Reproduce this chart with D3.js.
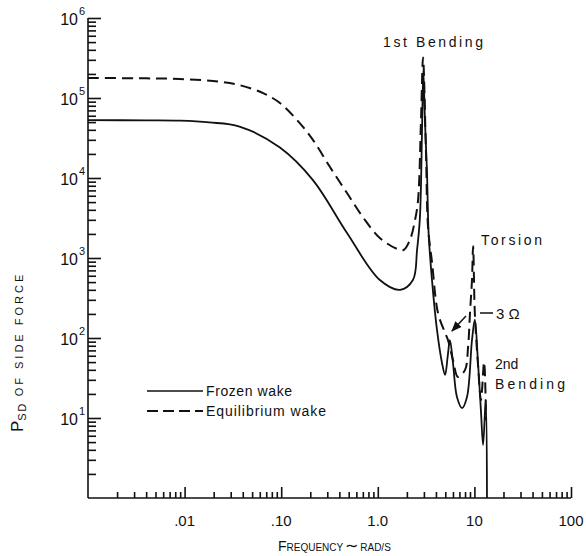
<!DOCTYPE html>
<meta charset="utf-8">
<style>
  body { margin: 0; background: #fff; }
  text { font-family: "Liberation Sans", Arial, sans-serif; fill: #111; }
</style>
<svg width="586" height="556"></svg>
<script src="https://d3js.org/d3.v7.min.js"></script>
<script>

var width = 586,
    height = 556;

// frozen wake (solid)
var freqFrozen = [0.001, 0.004, 0.009, 0.018, 0.037, 0.097, 0.213, 0.48, 1.05, 1.7, 2.31, 2.55, 2.73, 2.87, 2.96, 3.08, 3.23, 3.36, 3.64, 4.10, 4.62, 4.97, 5.3, 5.58, 6.0, 6.6, 7.45, 8.38, 9.44, 10.1, 10.9, 11.7, 12.3, 13.1, 13.5];
var psdFrozen = [5.3e4, 5.25e4, 5.2e4, 4.95e4, 4.4e4, 2.4e4, 9400, 2050, 530, 400, 530, 1260, 3240, 4e4, 2.2e5, 5e4, 1.2e4, 2000, 530, 126, 48.7, 34.5, 60, 94, 49, 18.3, 13.3, 18.3, 94, 170, 49, 12, 4.6, 16.8, 1];

// equilibrium wake (dashed)
var freqEquil = [0.001, 0.004, 0.0089, 0.0197, 0.037, 0.065, 0.097, 0.146, 0.213, 0.32, 0.48, 0.70, 1.05, 1.58, 1.85, 2.15, 2.43, 2.61, 2.80, 2.94, 3.15, 3.31, 3.64, 4.20, 4.97, 5.33, 6.0, 6.76, 8.0, 8.6, 9.0, 9.44, 9.7, 10.1, 10.9, 11.7, 12.6, 13.2];
var psdEquil = [1.78e5, 1.76e5, 1.73e5, 1.63e5, 1.45e5, 1.15e5, 8.66e4, 5.3e4, 3e4, 1.37e4, 6490, 3250, 1780, 1300, 1260, 1680, 2990, 5300, 5.3e4, 3.2e5, 2.2e4, 2450, 890, 205, 116, 94, 53, 32.5, 40, 77, 205, 531, 1400, 205, 46, 16.8, 50, 9.4];

var xMajor = [0.01, 0.1, 1, 10, 100],
    xLabels = [".01", ".10", "1.0", "10", "100"],
    yMajor = [1e1, 1e2, 1e3, 1e4, 1e5, 1e6],
    yExp = ["1", "2", "3", "4", "5", "6"];

var x = d3.scaleLog().domain([0.001, 100]).range([88, 571]),
    y = d3.scaleLog().domain([1, 1e6]).range([498, 18]);

var svg = d3.select("svg");

function minors(lo, hi) {
  var out = [];
  for (var d = lo; d < hi; d *= 10)
    for (var k = 2; k <= 9; k++) out.push(d * k);
  return out;
}

// axes
svg.append("g")
    .attr("transform", "translate(0,498)")
    .call(d3.axisBottom(x).tickValues(minors(0.001, 100)).tickSize(-6).tickFormat(""))
    .call(function(g) { g.select(".domain").attr("d", "M88,0H571"); });
svg.append("g")
    .attr("transform", "translate(0,498)")
    .call(d3.axisBottom(x).tickValues(xMajor).tickSize(-11).tickFormat(""))
    .call(function(g) { g.select(".domain").remove(); });

svg.append("g")
    .attr("transform", "translate(88,0)")
    .call(d3.axisLeft(y).tickValues(minors(1, 1e6)).tickSize(-8).tickFormat(""))
    .call(function(g) { g.select(".domain").attr("d", "M0,18V498"); });
svg.append("g")
    .attr("transform", "translate(88,0)")
    .call(d3.axisLeft(y).tickValues(yMajor).tickSize(-13).tickFormat(""))
    .call(function(g) { g.select(".domain").remove(); });

svg.selectAll(".tick line, .domain").attr("stroke", "#111").attr("stroke-width", 1.6);

// tick labels
svg.selectAll(".xlab")
  .data(xMajor)
  .enter().append("text")
    .attr("x", function(d) { return x(d); })
    .attr("y", 526)
    .attr("text-anchor", "middle")
    .style("font-size", "15px")
    .text(function(d, i) { return xLabels[i]; });

var yl = svg.selectAll(".ylab")
  .data(yMajor)
  .enter().append("g")
    .attr("transform", function(d) { return "translate(0," + y(d) + ")"; });
yl.append("text")
    .attr("x", 78)
    .attr("y", 7)
    .attr("text-anchor", "end")
    .style("font-size", "16px")
    .text("10");
yl.append("text")
    .attr("x", 79)
    .attr("y", -3)
    .style("font-size", "11px")
    .text(function(d, i) { return yExp[i]; });

// curves
var line = d3.line()
    .x(function(d) { return x(d[0]); })
    .y(function(d) { return y(d[1]); })
    .curve(d3.curveCatmullRom.alpha(0.5));

svg.append("path")
    .datum(d3.zip(freqFrozen, psdFrozen))
    .attr("d", line)
    .attr("fill", "none")
    .attr("stroke", "#111")
    .attr("stroke-width", 1.8);

svg.append("path")
    .datum(d3.zip(freqEquil, psdEquil))
    .attr("d", line)
    .attr("fill", "none")
    .attr("stroke", "#111")
    .attr("stroke-width", 2)
    .attr("stroke-dasharray", "11,6");

// annotations
function label(t, px, py, size) {
  return svg.append("text").attr("x", px).attr("y", py).style("font-size", (size || 14) + "px").text(t);
}
label("1st Bending", 383, 47, 14).attr("textLength", 100);
label("Torsion", 481, 245, 14).attr("textLength", 61);
label("2nd", 495, 369, 14);
label("Bending", 495, 389, 14).attr("textLength", 70);
label("3 Ω", 496, 319, 15);
svg.append("line").attr("x1", 480).attr("x2", 493).attr("y1", 313).attr("y2", 313)
    .attr("stroke", "#111").attr("stroke-width", 1.5);

svg.append("defs").append("marker")
    .attr("id", "ah")
    .attr("viewBox", "0 0 10 10")
    .attr("refX", 9).attr("refY", 5)
    .attr("markerWidth", 7).attr("markerHeight", 7)
    .attr("orient", "auto")
  .append("path").attr("d", "M0,1L10,5L0,9Z").attr("fill", "#111");
svg.append("line").attr("x1", 466).attr("y1", 316).attr("x2", 452).attr("y2", 331)
    .attr("stroke", "#111").attr("stroke-width", 1.5).attr("marker-end", "url(#ah)");

// legend
svg.append("line").attr("x1", 147).attr("x2", 203).attr("y1", 391).attr("y2", 391)
    .attr("stroke", "#111").attr("stroke-width", 1.6);
svg.append("line").attr("x1", 147).attr("x2", 203).attr("y1", 411).attr("y2", 411)
    .attr("stroke", "#111").attr("stroke-width", 2).attr("stroke-dasharray", "11,5");
label("Frozen wake", 206, 396, 14).attr("textLength", 86);
label("Equilibrium wake", 206, 416, 14).attr("textLength", 120);

// axis titles
var xt = svg.append("text").attr("x", 278).attr("y", 551);
xt.append("tspan").style("font-size", "14px").text("F");
xt.append("tspan").style("font-size", "10px").text("REQUENCY");
xt.append("tspan").style("font-size", "16px").attr("dx", 2).text("∼");
xt.append("tspan").style("font-size", "10px").attr("dx", 2).text("RAD/S");

var yt = svg.append("text").attr("transform", "translate(23,432) rotate(-90)");
yt.append("tspan").style("font-size", "17px").text("P");
yt.append("tspan").style("font-size", "11px").attr("dy", 3).attr("letter-spacing", "1.5").text("SD");
yt.append("tspan").style("font-size", "11px").attr("dy", -3).attr("letter-spacing", "3").text(" OF SIDE FORCE");

</script>
